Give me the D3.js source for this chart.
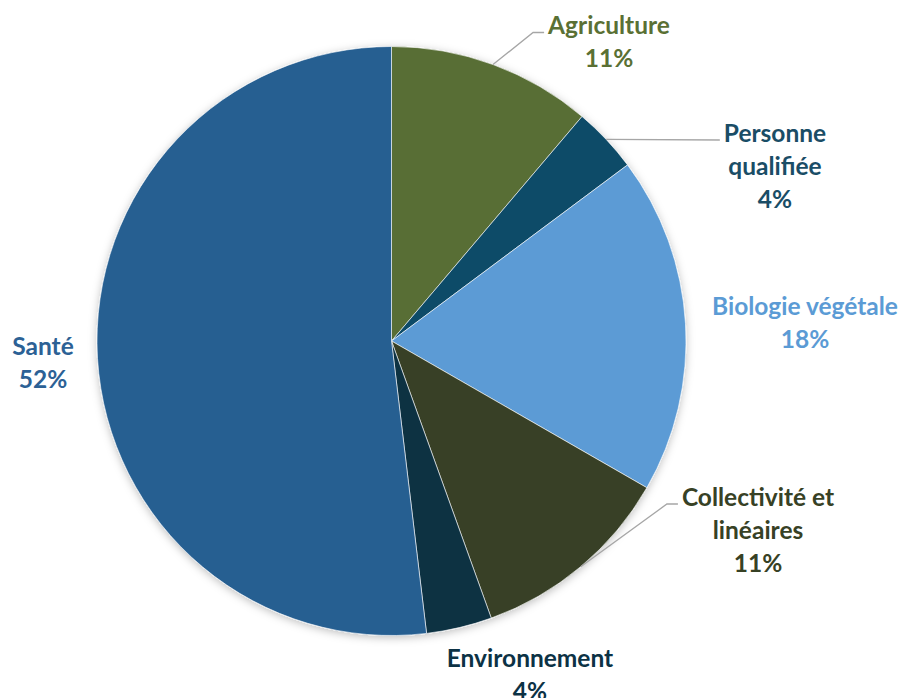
<!DOCTYPE html>
<html>
<head>
<meta charset="utf-8">
<script src="https://cdn.jsdelivr.net/npm/d3@7"></script>
<style>
  body { margin: 0; background: #fff; }
  text { font-family: Lato, "Open Sans", sans-serif; font-weight: bold; }
</style>
</head>
<body>
<script>
// data
var categories = ["Agriculture", "Personne qualifiée", "Biologie végétale", "Collectivité et linéaires", "Environnement", "Santé"];
var values = [11.2, 3.6, 18.5, 11.2, 3.6, 51.9];
var labels = ["11%", "4%", "18%", "11%", "4%", "52%"];
var colors = ["#586e36", "#0f4b67", "#5b9bd5", "#374125", "#0b3043", "#255e91"];
var textColors = ["#5a7034", "#1a4d66", "#5b9bd5", "#374125", "#0c3245", "#2c6195"];
// label text lines + where excel put them (block centre, offset from pie centre)
var labelLines = [["Agriculture"], ["Personne", "qualifiée"], ["Biologie végétale"], ["Collectivité et", "linéaires"], ["Environnement"], ["Santé"]];
var labelPos = [[217.5, -299], [383.5, -175], [413.5, -18], [366.5, 189], [138.5, 334], [-348.5, 22]];
var leaders = [true, true, false, true, false, false];

var width = 901, height = 698;
var cx = 391.5, cy = 341, radius = 294.5;
var fontSize = 24.5, lineH = 33;

var svg = d3.select("body").append("svg")
  .attr("width", width)
  .attr("height", height);

var defs = svg.append("defs");
var f = defs.append("filter").attr("id", "shadow")
  .attr("x", "-10%").attr("y", "-10%").attr("width", "120%").attr("height", "120%");
f.append("feDropShadow").attr("dx", 0).attr("dy", 2).attr("stdDeviation", 4)
  .attr("flood-color", "#000").attr("flood-opacity", 0.25);

var pie = d3.pie().sort(null).value(function(d) { return d; });
var arcs = pie(values);
var arc = d3.arc().innerRadius(0).outerRadius(radius);

var g = svg.append("g").attr("transform", "translate(" + cx + "," + cy + ")");

g.append("g").attr("filter", "url(#shadow)")
  .selectAll("path")
  .data(arcs)
  .enter().append("path")
  .attr("d", arc)
  .attr("fill", function(d, i) { return colors[i]; })
  .attr("stroke", "#fff")
  .attr("stroke-width", 0.6);

// leader lines
arcs.forEach(function(d, i) {
  if (!leaders[i]) return;
  var mid = (d.startAngle + d.endAngle) / 2;
  var p0 = [Math.sin(mid) * radius, -Math.cos(mid) * radius];
  var n = labelLines[i].length + 1;
  var ty = labelPos[i][1] - (n - 1) * lineH / 2 + 7;
  var tmp = g.append("text").attr("font-size", fontSize).text(labelLines[i][0]);
  var textW = tmp.node().getComputedTextLength();
  tmp.remove();
  var tx = labelPos[i][0] - textW / 2 - 4;
  var pts;
  if (Math.abs(ty - p0[1]) < 6) {
    pts = [p0, [tx, ty]];
  } else {
    pts = [p0, [tx - 11, ty], [tx, ty]];
  }
  g.append("path")
    .attr("d", d3.line()(pts))
    .attr("fill", "none")
    .attr("stroke", "#a6a6a6")
    .attr("stroke-width", 1.3);
});

// labels
arcs.forEach(function(d, i) {
  var lines = labelLines[i].concat([labels[i]]);
  var t = g.append("text")
    .attr("text-anchor", "middle")
    .attr("font-size", fontSize)
    .attr("fill", textColors[i]);
  var y0 = labelPos[i][1] - (lines.length - 1) * lineH / 2;
  lines.forEach(function(s, k) {
    t.append("tspan")
      .attr("x", labelPos[i][0])
      .attr("y", y0 + k * lineH)
      .attr("dy", "0.35em")
      .text(s);
  });
});
</script>
</body>
</html>
